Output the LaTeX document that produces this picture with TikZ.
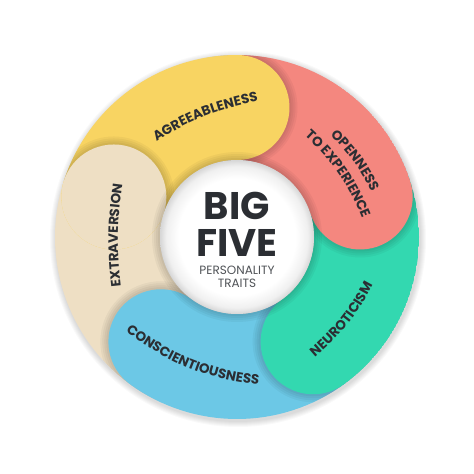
\documentclass[tikz,border=0pt]{standalone}
\usepackage{fontspec}
\newfontfamily\poppins{Poppins}
\usetikzlibrary{positioning}
\usetikzlibrary{decorations.text}

\definecolor{agreecol}{HTML}{F8D462}
\definecolor{opencol}{HTML}{F4877F}
\definecolor{neurocol}{HTML}{33D8B0}
\definecolor{conscol}{HTML}{6CC8E6}
\definecolor{extracol}{HTML}{EEDFC4}
\definecolor{inkcol}{HTML}{2B2E33}
\definecolor{subcol}{HTML}{505357}

% white middle that greys out towards its rim
\pgfdeclareradialshading{hubglow}{\pgfpointorigin}{%
  color(0bp)=(white); color(19bp)=(white); color(23bp)=(black!6);
  color(25bp)=(black!16); color(50bp)=(black!16)}

\newcommand{\ringmid}{129.5}
\newcommand{\bandhalf}{52.5}
\newcommand{\traitfont}{\poppins\bfseries\fontsize{13.5}{14}\selectfont}

\tikzset{
  % one trait band: a thick arc with round ends
  petal/.style = {
    draw = #1,
    line width = 105pt,
    line cap = round
  },
  % head of a band, put back on top
  petalhead/.style = {
    fill = #1
  },
  % soft shade under a band head
  headshade/.style = {
    fill = black,
    fill opacity = 0.04
  },
  ringshade/.style = {
    fill = black,
    fill opacity = 0.025
  }
}
\tikzset {
  % curved label of a trait
  traitlabel/.style = {
    decorate,
    decoration = {
      text along path,
      text align = center,
      text color = inkcol,
      text = {|\traitfont|#1}
    }
  },
  bigword/.style = {
    anchor = base,
    inner sep = 0,
    text = inkcol,
    font = \poppins\bfseries\fontsize{38.5}{38.5}\selectfont
  },
  subword/.style = {
    anchor = base,
    inner sep = 0,
    text = subcol,
    font = \poppins\fontsize{12}{12}\selectfont
  }
}

\begin{document}
\begin{tikzpicture}[x=1pt, y=1pt]
  \useasboundingbox[fill=white] (0,0) rectangle (474,474);
  \coordinate (hub) at (237,237);

  % shadow round the ring
  \foreach \d in {1,...,6}
    \fill[ringshade] ([shift={(1,-2)}]hub) circle[radius=182+\d];

  \begin{scope}
    \clip (hub) circle[radius=182];

    \draw[petal=extracol] ([shift={(234:\ringmid)}]hub)
      arc[start angle=234, end angle=162, radius=\ringmid];

    \foreach \d in {2,4,6,8}
      \fill[headshade] ([shift={(-126:\ringmid)}]hub) circle[radius=\bandhalf+\d];
    \draw[petal=conscol] ([shift={(-54:\ringmid)}]hub)
      arc[start angle=-54, end angle=-126, radius=\ringmid];

    \foreach \d in {2,4,6,8}
      \fill[headshade] ([shift={(-54:\ringmid)}]hub) circle[radius=\bandhalf+\d];
    \draw[petal=neurocol] ([shift={(18:\ringmid)}]hub)
      arc[start angle=18, end angle=-54, radius=\ringmid];

    \foreach \d in {2,4,6,8}
      \fill[headshade] ([shift={(18:\ringmid)}]hub) circle[radius=\bandhalf+\d];
    \draw[petal=opencol] ([shift={(90:\ringmid)}]hub)
      arc[start angle=90, end angle=18, radius=\ringmid];

    \foreach \d in {2,4,6,8}
      \fill[headshade] ([shift={(90:\ringmid)}]hub) circle[radius=\bandhalf+\d];
    \draw[petal=agreecol] ([shift={(162:\ringmid)}]hub)
      arc[start angle=162, end angle=90, radius=\ringmid];

    % extraversion head lies over the agreeableness tail
    \begin{scope}
      \clip (hub) -- ([shift={(162:300)}]hub) -- ([shift={(110:300)}]hub) -- cycle;
      \foreach \d in {2,4,6,8}
        \fill[headshade] ([shift={(162:\ringmid)}]hub) circle[radius=\bandhalf+\d];
    \end{scope}
    \fill[petalhead=extracol] ([shift={(162:\ringmid)}]hub) circle[radius=\bandhalf];

    % middle disc
    \foreach \d in {2,4,6,8}
      \fill[headshade] (hub) circle[radius=77+\d];
    \shade[shading=hubglow] (hub) circle[radius=77];
  \end{scope}

  \node[bigword] (big) at (237,254) {BIG};
  \node[below=37pt of big.base, bigword] (five) {FIVE};
  \node[below=18pt of five.base, subword] (pers) {PERSONALITY};
  \node[below=13pt of pers.base, subword] (traits) {TRAITS};

  \coordinate (agree-a) at (150,328);
  \coordinate (agree-b) at (266,374);
  \coordinate (open-a) at (322,346);
  \coordinate (open-b) at (376,272);
  \coordinate (exper-a) at (297,345);
  \coordinate (exper-b) at (366,246);
  \coordinate (neuro-a) at (308,111);
  \coordinate (neuro-b) at (377,197);
  \coordinate (consc-a) at (119,148);
  \coordinate (consc-b) at (267,88);
  \coordinate (extra-a) at (122,177);
  \coordinate (extra-b) at (124,300);

  \path[traitlabel={AGREEABLENESS}] (agree-a) to[bend left=12] (agree-b);
  \path[traitlabel={OPENNESS}] (open-a) to[bend left=12] (open-b);
  \path[traitlabel={TO EXPERIENCE}] (exper-a) to[bend left=14] (exper-b);
  \path[traitlabel={NEUROTICISM}] (neuro-a) to[bend right=12] (neuro-b);
  \path[traitlabel={CONSCIENTIOUSNESS}] (consc-a) to[bend right=16] (consc-b);
  \path[traitlabel={EXTRAVERSION}] (extra-a) to[bend left=8] (extra-b);
\end{tikzpicture}
\end{document}
